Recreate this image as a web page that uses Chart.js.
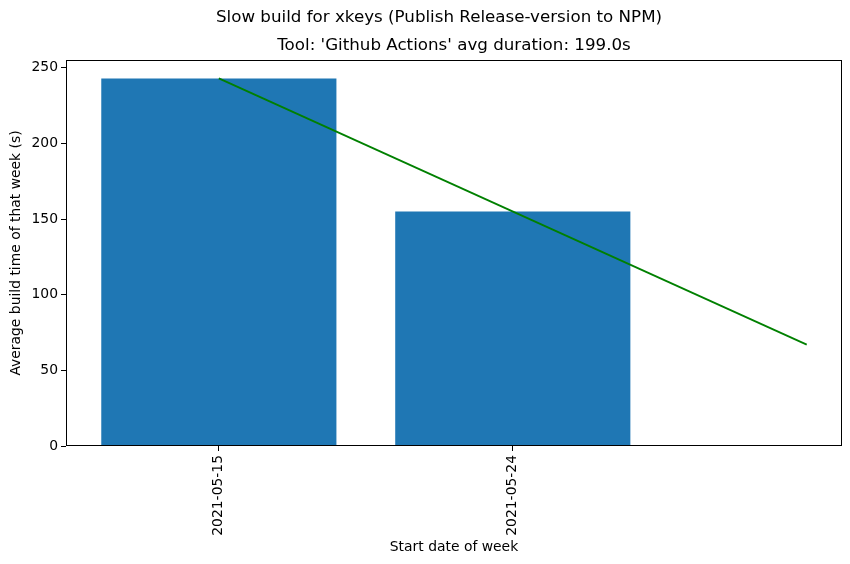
<!DOCTYPE html>
<html>
<head>
<meta charset="utf-8">
<script src="https://cdn.jsdelivr.net/npm/chart.js@4.4.1/dist/chart.umd.min.js"></script>
<style>
html,body{margin:0;padding:0;background:#fff;}
#wrap{width:850px;height:564px;}
</style>
</head>
<body>
<div id="wrap"><canvas id="c" width="850" height="564"></canvas></div>
<script>
const categories = ['2021-05-15', '2021-05-24'];
const buildTimes = [243, 155];
const trendX = [0, 2];
const trendY = [243, 67];
const yTicks = [0, 50, 100, 150, 200, 250];
const titleText = 'Slow build for xkeys (Publish Release-version to NPM)';
const subtitleText = "Tool: 'Github Actions' avg duration: 199.0s";
const xTitle = 'Start date of week';
const yTitle = 'Average build time of that week (s)';

const FONT = "'DejaVu Sans', sans-serif";
const LBL = 13.9;

const titlesPlugin = {
  id: 'titles',
  afterDraw(chart) {
    const ctx = chart.ctx;
    const a = chart.chartArea;
    ctx.save();
    ctx.fillStyle = '#000';
    ctx.textAlign = 'center';
    ctx.textBaseline = 'middle';
    ctx.font = '16.7px ' + FONT;
    ctx.fillText(titleText, 439, 18);
    ctx.fillText(subtitleText, (a.left + a.right) / 2, 46);
    ctx.restore();
  }
};

const framePlugin = {
  id: 'frame',
  afterDatasetsDraw(chart) {
    const ctx = chart.ctx;
    const a = chart.chartArea;
    ctx.save();
    ctx.strokeStyle = '#000';
    ctx.lineWidth = 1;
    ctx.strokeRect(Math.round(a.left) + 0.5, Math.round(a.top) + 0.5,
                   Math.round(a.right - a.left) - 1, Math.round(a.bottom - a.top) - 1);
    ctx.restore();
  }
};

new Chart(document.getElementById('c'), {
  data: {
    datasets: [
      {
        type: 'line',
        data: trendX.map((x, i) => ({x: x, y: trendY[i]})),
        borderColor: '#008000',
        borderWidth: 1.8,
        pointRadius: 0,
        fill: false,
        order: 0
      },
      {
        type: 'bar',
        data: buildTimes.map((v, i) => ({x: i, y: v})),
        backgroundColor: '#1f77b4',
        borderWidth: 0,
        categoryPercentage: 0.8,
        barPercentage: 1.0,
        order: 1
      }
    ]
  },
  options: {
    responsive: false,
    animation: false,
    devicePixelRatio: 1,
    layout: {padding: {top: 60, left: 0, right: 8, bottom: 0}},
    plugins: {
      legend: {display: false},
      tooltip: {enabled: false},
      title: {display: false}
    },
    scales: {
      x: {
        type: 'linear',
        offset: false,
        min: -0.52,
        max: 2.12,
        afterBuildTicks(axis) { axis.ticks = categories.map((c, i) => ({value: i})); },
        afterFit(axis) { axis.height = 118; },
        ticks: {
          autoSkip: false,
          minRotation: 90,
          maxRotation: 90,
          padding: 4,
          color: '#000',
          font: {family: FONT, size: LBL},
          callback: (v) => categories[v] !== undefined ? categories[v] : ''
        },
        grid: {offset: false, drawOnChartArea: false, drawTicks: true, tickLength: 5, tickColor: '#000'},
        border: {display: false},
        title: {display: true, text: xTitle, color: '#000', font: {family: FONT, size: LBL}, padding: {top: 2, bottom: 8}}
      },
      y: {
        min: 0,
        max: 255.15,
        afterBuildTicks(axis) { axis.ticks = yTicks.map(v => ({value: v})); },
        afterFit(axis) { axis.width = 66; },
        ticks: {
          padding: 3,
          color: '#000',
          font: {family: FONT, size: LBL}
        },
        grid: {drawOnChartArea: false, drawTicks: true, tickLength: 5, tickColor: '#000'},
        border: {display: false},
        title: {display: true, text: yTitle, color: '#000', font: {family: FONT, size: LBL}, padding: {top: 8, bottom: 0}}
      }
    }
  },
  plugins: [titlesPlugin, framePlugin]
});
</script>
</body>
</html>
